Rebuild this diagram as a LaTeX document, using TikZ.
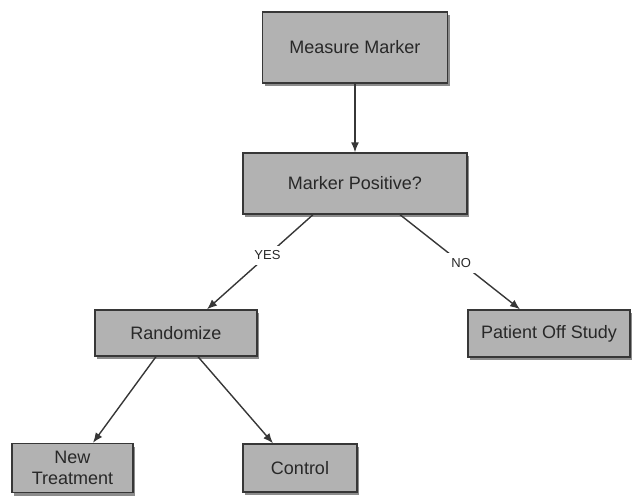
\documentclass[tikz,border=0pt]{standalone}
\usepackage{fontspec}
\setmainfont{Liberation Sans}
\usetikzlibrary{shadows,arrows.meta}

\definecolor{boxgray}{RGB}{178,178,178}
\definecolor{linegray}{RGB}{55,55,55}
\definecolor{textgray}{RGB}{40,40,40}

\begin{document}
\begin{tikzpicture}[x=1pt, y=-1pt,
		box/.style={draw=linegray, line width=1.4pt, fill=boxgray, text=textgray,
			font=\fontsize{18}{21}\selectfont, align=center, inner sep=0pt,
			drop shadow={shadow xshift=2pt, shadow yshift=-3pt, opacity=0.45, fill=black}},
		arrow/.style={draw=linegray, line width=1.4pt, -{Latex[length=10pt, width=8pt]}},
		answer/.style={fill=white, text=textgray, font=\fontsize{13}{15}\selectfont, inner sep=5pt}]
		\useasboundingbox (0,0) rectangle (633,496);
		% top
		\node[box, minimum width=185, minimum height=71] (measure) at (355,47.5) {Measure Marker};
		\node[box, minimum width=224, minimum height=61] (positive) at (355,183.5) {Marker Positive?};
		\draw[arrow] (measure) -- (positive);
		% yes / no
		\node[box, minimum width=162, minimum height=46] (randomize) at (176,333) {Randomize};
		\node[box, minimum width=162, minimum height=47] (offstudy) at (549,333.5) {Patient Off Study};
		\draw[arrow] ([xshift=-42pt]positive.south) -- ([xshift=31pt]randomize.north)
		node[answer, pos=.43] {YES};
		\draw[arrow] ([xshift=45pt]positive.south) -- ([xshift=-29pt]offstudy.north)
		node[answer, pos=.51] {NO};
		% arms
		\node[box, minimum width=121, minimum height=49] (newtreat) at (72.5,468) {New\\Treatment};
		\node[box, minimum width=114, minimum height=48] (control) at (300,468) {Control};
		\draw[arrow] ([xshift=-20pt]randomize.south) -- ([xshift=20.5pt]newtreat.north);
		\draw[arrow] ([xshift=22pt]randomize.south) -- ([xshift=-27pt]control.north);
	\end{tikzpicture}
\end{document}
